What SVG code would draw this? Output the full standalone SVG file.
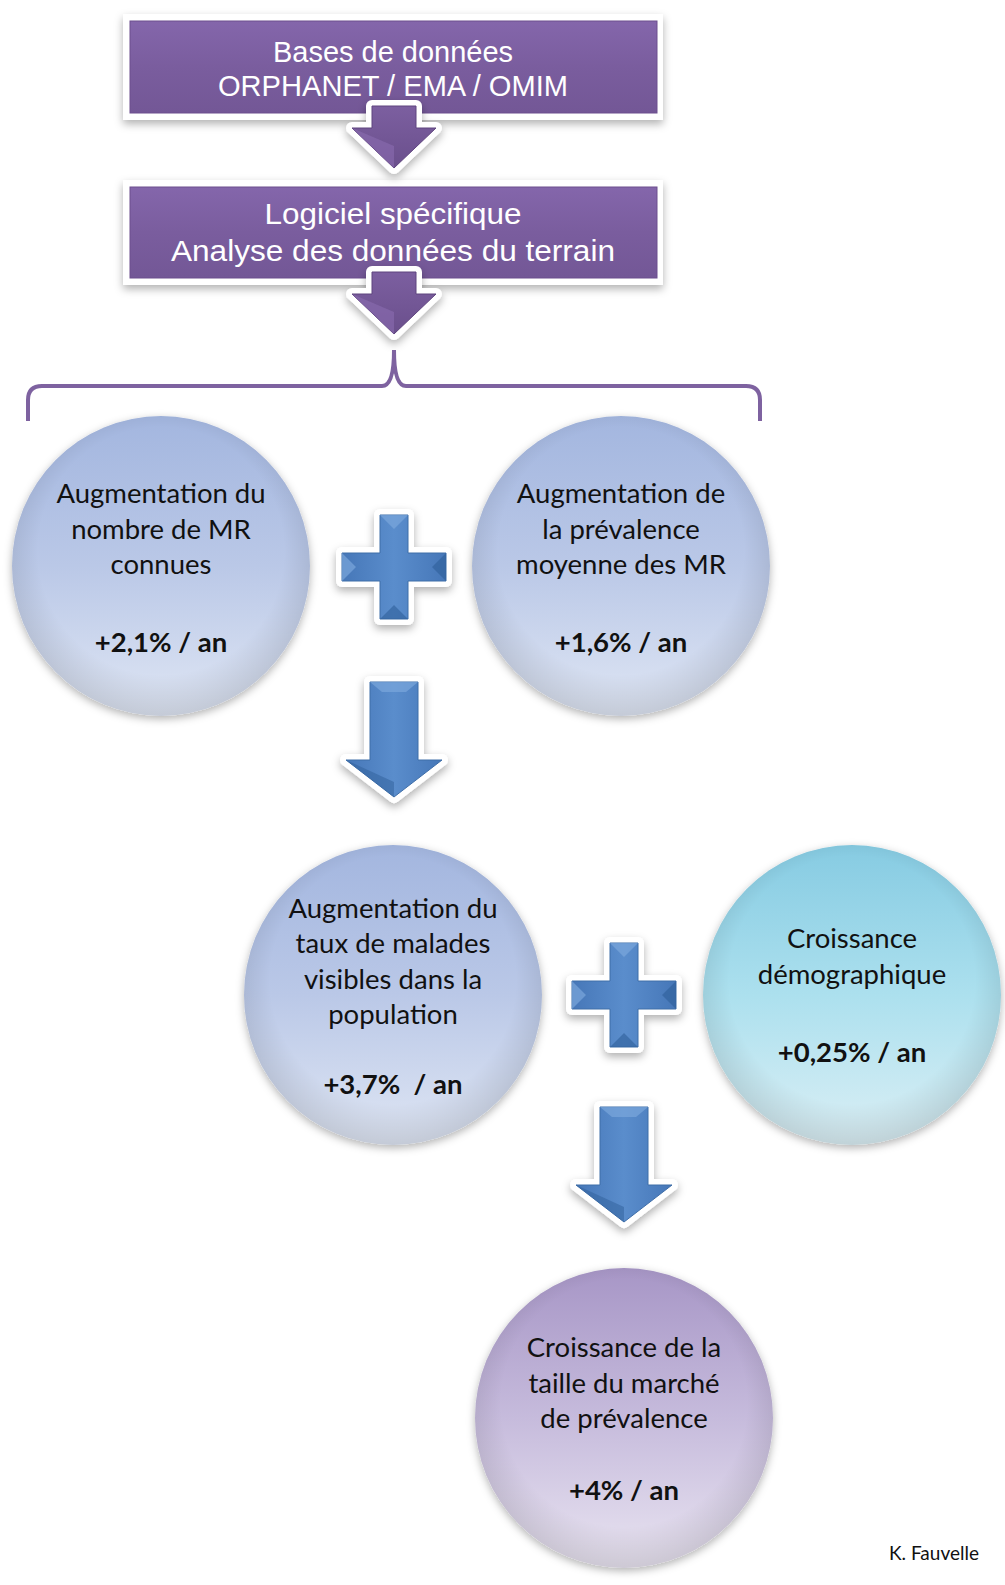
<svg xmlns="http://www.w3.org/2000/svg" width="1005" height="1585" viewBox="0 0 1005 1585">
<style>
.box{font-family:"Liberation Sans",Arial,sans-serif;font-size:30px;fill:#ffffff;text-anchor:middle}
.t{font-family:Lato,"Open Sans",sans-serif;font-size:27.5px;fill:#111111;text-anchor:middle}
.b{font-weight:bold}
.frame{fill:#ffffff;filter:url(#sh)}
.pbox{fill:url(#pg);stroke:#6c4f8e;stroke-width:1}
.outline{fill:#ffffff;stroke:#ffffff;stroke-width:12;stroke-linejoin:round;filter:url(#sh)}
.blue{fill:url(#bg);stroke:#3f6ea8;stroke-width:1}
.parrow{fill:url(#pa);stroke:#5f447f;stroke-width:1}
</style>
<defs>
<filter id="sh" x="-20%" y="-20%" width="140%" height="150%">
<feDropShadow dx="0" dy="4" stdDeviation="4" flood-color="#000000" flood-opacity="0.3"/>
</filter>
<filter id="csh" x="-20%" y="-20%" width="140%" height="140%">
<feDropShadow dx="0" dy="3" stdDeviation="4" flood-color="#000000" flood-opacity="0.3"/>
</filter>
<linearGradient id="pg" x1="0" y1="0" x2="0" y2="1">
<stop offset="0" stop-color="#8466ab"/>
<stop offset="0.5" stop-color="#7a5d9e"/>
<stop offset="1" stop-color="#735796"/>
</linearGradient>
<linearGradient id="pa" x1="0" y1="0" x2="0" y2="1">
<stop offset="0" stop-color="#7c5fa0"/>
<stop offset="1" stop-color="#6a4f8c"/>
</linearGradient>
<linearGradient id="bg" x1="0" y1="0" x2="1" y2="0">
<stop offset="0" stop-color="#4677b8"/>
<stop offset="0.5" stop-color="#5a8dcc"/>
<stop offset="1" stop-color="#4677b8"/>
</linearGradient>
<linearGradient id="c1" x1="0" y1="0" x2="0" y2="1">
<stop offset="0" stop-color="#a3b6df"/>
<stop offset="0.5" stop-color="#bac8e7"/>
<stop offset="1" stop-color="#dfe6f4"/>
</linearGradient>
<linearGradient id="c2" x1="0" y1="0" x2="0" y2="1">
<stop offset="0" stop-color="#86cbe2"/>
<stop offset="0.5" stop-color="#ace0ee"/>
<stop offset="1" stop-color="#dbeff5"/>
</linearGradient>
<linearGradient id="c3" x1="0" y1="0" x2="0" y2="1">
<stop offset="0" stop-color="#a796c6"/>
<stop offset="0.5" stop-color="#c6bbdc"/>
<stop offset="1" stop-color="#e9e4f1"/>
</linearGradient>
<radialGradient id="edge" cx="0.5" cy="0.45" r="0.55">
<stop offset="0.75" stop-color="#000000" stop-opacity="0"/>
<stop offset="1" stop-color="#000000" stop-opacity="0.12"/>
</radialGradient>
<path id="plus" d="M-14,-52 H14 V-14 H52 V14 H14 V52 H-14 V14 H-52 V-14 H-14 Z"/>
<path id="darr" d="M-24,0 H24 V78 H48 L0,115 L-48,78 H-24 Z"/>
<path id="parr" d="M-22,0 H22 V22 H42 L0,62 L-42,22 H-22 Z"/>
</defs>
<rect width="1005" height="1585" fill="#ffffff"/>

<g id="node-bases">
<rect class="frame" x="123" y="14" width="540" height="106"/>
<rect class="pbox" x="130" y="21" width="527" height="92"/>
<text class="box" x="393" y="62" textLength="240" lengthAdjust="spacingAndGlyphs">Bases de données</text>
<text class="box" x="393" y="96" textLength="350" lengthAdjust="spacingAndGlyphs">ORPHANET / EMA / OMIM</text>
</g>

<g id="node-logiciel">
<rect class="frame" x="123" y="180" width="540" height="105"/>
<rect class="pbox" x="130" y="187" width="527" height="91"/>
<text class="box" x="393" y="224" textLength="257" lengthAdjust="spacingAndGlyphs">Logiciel spécifique</text>
<text class="box" x="393" y="261" textLength="444" lengthAdjust="spacingAndGlyphs">Analyse des données du terrain</text>
</g>

<g id="node-mr">
<ellipse cx="161" cy="566" rx="149" ry="150" fill="url(#c1)" filter="url(#csh)"/>
<ellipse cx="161" cy="566" rx="149" ry="150" fill="url(#edge)"/>
<text class="t" x="161" y="503">Augmentation du</text>
<text class="t" x="161" y="539">nombre de MR</text>
<text class="t" x="161" y="574">connues</text>
<text class="t b" x="161" y="652">+2,1% / an</text>
</g>

<g id="node-prev">
<ellipse cx="621" cy="566" rx="149" ry="150" fill="url(#c1)" filter="url(#csh)"/>
<ellipse cx="621" cy="566" rx="149" ry="150" fill="url(#edge)"/>
<text class="t" x="621" y="503">Augmentation de</text>
<text class="t" x="621" y="539">la prévalence</text>
<text class="t" x="621" y="574">moyenne des MR</text>
<text class="t b" x="621" y="652">+1,6% / an</text>
</g>

<g id="node-taux">
<ellipse cx="393" cy="995" rx="149" ry="150" fill="url(#c1)" filter="url(#csh)"/>
<ellipse cx="393" cy="995" rx="149" ry="150" fill="url(#edge)"/>
<text class="t" x="393" y="918">Augmentation du</text>
<text class="t" x="393" y="953">taux de malades</text>
<text class="t" x="393" y="989">visibles dans la</text>
<text class="t" x="393" y="1024">population</text>
<text class="t b" x="393" y="1094" xml:space="preserve">+3,7%  / an</text>
</g>

<g id="node-demo">
<ellipse cx="852" cy="995" rx="149" ry="150" fill="url(#c2)" filter="url(#csh)"/>
<ellipse cx="852" cy="995" rx="149" ry="150" fill="url(#edge)"/>
<text class="t" x="852" y="948">Croissance</text>
<text class="t" x="852" y="984">démographique</text>
<text class="t b" x="852" y="1062">+0,25% / an</text>
</g>

<g id="node-marche">
<ellipse cx="624" cy="1418" rx="149" ry="150" fill="url(#c3)" filter="url(#csh)"/>
<ellipse cx="624" cy="1418" rx="149" ry="150" fill="url(#edge)"/>
<text class="t" x="624" y="1357">Croissance de la</text>
<text class="t" x="624" y="1393">taille du marché</text>
<text class="t" x="624" y="1428">de prévalence</text>
<text class="t b" x="624" y="1500">+4% / an</text>
</g>

<g id="connectors">
<g transform="translate(394,106)">
<use href="#parr" class="outline"/>
<use href="#parr" class="parrow"/>
<path d="M-42,22 L0,62 L0,40 Z" fill="#8a6cb0" opacity="0.6"/>
</g>
<g transform="translate(394,272)">
<use href="#parr" class="outline"/>
<use href="#parr" class="parrow"/>
<path d="M-42,22 L0,62 L0,40 Z" fill="#8a6cb0" opacity="0.6"/>
</g>
<path d="M28,421 V400 Q28,386 42,386 H382 Q394,386 394,350 Q394,386 406,386 H746 Q760,386 760,400 V421" fill="none" stroke="#7e62a0" stroke-width="4"/>
<g transform="translate(394,567)">
<use href="#plus" class="outline"/>
<use href="#plus" class="blue"/>
<path d="M-14,-52 H14 L0,-38 Z M-52,-14 V14 L-38,0 Z" fill="#7aa6dc" opacity="0.7"/>
<path d="M-14,52 H14 L0,38 Z M52,-14 V14 L38,0 Z" fill="#2f5f9a" opacity="0.6"/>
</g>
<g transform="translate(394,682)">
<use href="#darr" class="outline"/>
<use href="#darr" class="blue"/>
<path d="M-24,0 H24 L12,10 H-12 Z" fill="#7aa6dc" opacity="0.7"/>
<path d="M-48,78 L0,115 L0,100 Z" fill="#2f5f9a" opacity="0.5"/>
</g>
<g transform="translate(624,995)">
<use href="#plus" class="outline"/>
<use href="#plus" class="blue"/>
<path d="M-14,-52 H14 L0,-38 Z M-52,-14 V14 L-38,0 Z" fill="#7aa6dc" opacity="0.7"/>
<path d="M-14,52 H14 L0,38 Z M52,-14 V14 L38,0 Z" fill="#2f5f9a" opacity="0.6"/>
</g>
<g transform="translate(624,1107)">
<use href="#darr" class="outline"/>
<use href="#darr" class="blue"/>
<path d="M-24,0 H24 L12,10 H-12 Z" fill="#7aa6dc" opacity="0.7"/>
<path d="M-48,78 L0,115 L0,100 Z" fill="#2f5f9a" opacity="0.5"/>
</g>
</g>

<text x="934" y="1560" font-family="Lato,'Open Sans',sans-serif" font-size="19" fill="#111111" text-anchor="middle">K. Fauvelle</text>
</svg>
